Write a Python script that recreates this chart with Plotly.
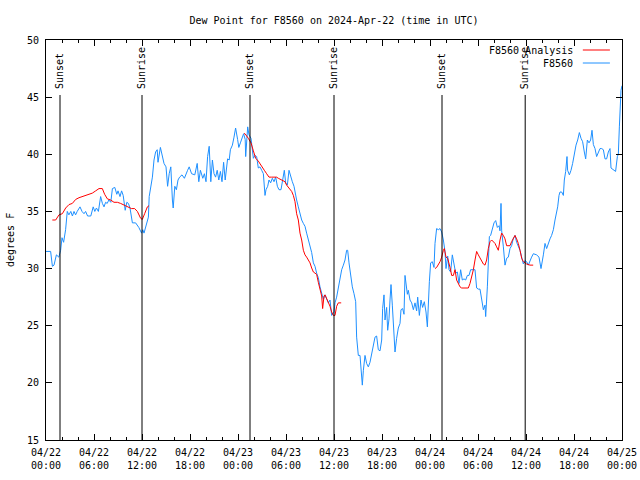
import pandas as pd
import plotly.graph_objects as go

# ---------------- data ----------------
base_time = "2024-04-22 00:00"

obs_hours = [0.0, 0.25, 0.58, 0.8, 1.0, 1.3, 1.6, 1.83, 2.0, 2.2, 2.45, 2.66, 2.86, 3.1, 3.3, 3.5, 3.7, 3.9,
             4.25, 4.5, 4.75, 4.95, 5.2, 5.6, 5.9, 6.1, 6.3, 6.55, 6.83, 7.05, 7.25, 7.45, 7.65, 7.85, 8.1,
             8.3, 8.6, 8.85, 9.0, 9.25, 9.45, 9.65, 9.9, 10.1, 10.3, 10.5, 10.8, 11.2, 11.6, 11.95, 12.1,
             12.25, 12.5, 12.8, 12.9, 13.1, 13.3, 13.5, 13.7, 13.9, 14.0, 14.3, 14.5, 14.75, 15.0, 15.2,
             15.4, 15.6, 15.8, 15.9, 16.1, 16.3, 16.5, 16.7, 17.0, 17.3, 17.7, 17.9, 18.2, 18.6, 18.9, 19.1,
             19.3, 19.6, 19.8, 20.0, 20.2, 20.4, 20.6, 20.8, 21.0, 21.2, 21.4, 21.6, 21.8, 22.0, 22.2, 22.4,
             22.7, 22.9, 23.05, 23.3, 23.5, 23.7, 23.95, 24.1, 24.3, 24.5, 24.7, 24.9, 24.96, 25.21, 25.375,
             25.625, 25.79, 25.92, 26.125, 26.33, 26.54, 26.75, 26.96, 27.17, 27.375, 27.5, 27.71, 27.875,
             28.08, 28.29, 28.5, 28.71, 28.92, 29.125, 29.375, 29.58, 29.79, 29.96, 30.17, 30.375, 30.58,
             30.79, 31.0, 31.125, 31.33, 31.54, 31.75, 31.96, 32.17, 32.375, 32.58, 32.79, 33.0, 33.21,
             33.42, 33.625, 33.83, 34.04, 34.25, 34.46, 34.67, 34.875, 35.08, 35.29, 35.5, 35.71, 36.0,
             36.125, 36.33, 36.54, 36.75, 36.96, 37.17, 37.375, 37.58, 37.71, 37.875, 38.08, 38.29, 38.5,
             38.71, 38.83, 39.04, 39.25, 39.375, 39.54, 39.67, 39.875, 40.08, 40.29, 40.5, 40.71, 40.92,
             41.125, 41.33, 41.54, 41.75, 41.96, 42.08, 42.25, 42.375, 42.58, 42.71, 42.875, 43.0, 43.125,
             43.29, 43.42, 43.625, 43.83, 44.04, 44.25, 44.375, 44.58, 44.75, 44.875, 45.0, 45.17, 45.29,
             45.5, 45.71, 45.92, 46.125, 46.33, 46.46, 46.67, 46.875, 47.08, 47.29, 47.5, 47.67, 47.79,
             47.92, 48.08, 48.29, 48.5, 48.625, 48.83, 49.04, 49.25, 49.46, 49.67, 49.875, 50.0, 50.21,
             50.375, 50.58, 50.79, 51.0, 51.21, 51.42, 51.625, 51.83, 52.04, 52.25, 52.46, 52.67, 52.875,
             53.08, 53.29, 53.625, 53.83, 54.04, 54.25, 54.46, 54.67, 54.875, 54.96, 55.17, 55.29, 55.42,
             55.58, 55.79, 56.0, 56.21, 56.42, 56.625, 56.75, 56.875, 56.96, 57.17, 57.375, 57.58, 57.79,
             58.0, 58.2, 58.4, 58.625, 58.83, 59.04, 59.25, 59.46, 59.67, 59.875, 60.08, 60.29, 60.5, 60.7,
             60.92, 61.33, 61.625, 61.875, 62.17, 62.375, 62.58, 62.79, 63.0, 63.2, 63.42, 63.625, 63.83,
             63.96, 64.125, 64.25, 64.46, 64.67, 64.79, 64.96, 65.125, 65.2, 65.42, 65.625, 65.83, 66.04,
             66.25, 66.46, 66.67, 66.875, 67.08, 67.29, 67.46, 67.67, 67.875, 68.08, 68.25, 68.42, 68.625,
             68.83, 69.04, 69.25, 69.46, 69.67, 69.875, 70.08, 70.29, 70.5, 70.625, 70.92, 71.2, 71.42,
             71.54, 71.67, 71.75, 71.875, 72.0]
obs_values = [31.5, 31.5, 31.5, 30.2, 30.3, 31.2, 31.0, 31.6, 32.7, 32.3, 33.4, 35.0, 34.7, 35.0, 34.6, 35.0, 34.7, 35.0,
              35.4, 35.0, 34.8, 35.0, 34.6, 34.6, 35.4, 35.0, 35.3, 35.0, 36.3, 35.7, 35.4, 35.8, 35.7, 36.0, 35.8,
              37.0, 37.1, 36.5, 36.8, 36.3, 36.8, 36.4, 35.1, 35.8, 35.7, 35.3, 34.0, 34.0, 33.6, 33.1, 33.4,
              33.1, 33.7, 34.5, 36.3, 37.2, 38.0, 39.5, 40.2, 40.4, 39.3, 40.6, 39.9, 39.2, 38.9, 37.2,
              38.3, 38.9, 36.0, 35.3, 37.2, 36.9, 37.75, 38.0, 38.2, 37.9, 38.6, 38.9, 38.3, 38.2, 39.2, 37.6,
              38.6, 37.9, 38.3, 37.6, 39.8, 40.7, 37.6, 39.5, 38.3, 38.0, 38.6, 37.75, 38.5, 37.6, 39.3, 37.75,
              39.6, 39.5, 40.4, 40.8, 41.5, 42.3, 41.3, 40.6, 41.0, 41.5, 41.8, 41.3, 39.8, 42.4, 41.7,
              41.4, 40.4, 39.65, 39.9, 39.8, 38.8, 38.9, 38.6, 38.3, 36.4, 36.9, 37.2, 37.75,
              37.5, 37.9, 37.6, 38.0, 37.2, 36.9, 36.9, 37.6, 38.6, 37.5, 37.3, 38.6, 38.0,
              37.6, 37.2, 36.6, 36.0, 35.4, 34.8, 34.25, 33.95, 33.7, 33.1, 32.5, 31.9, 31.4,
              30.5, 30.2, 29.6, 29.2, 28.4, 27.7, 27.3, 27.7, 27.3, 27.0, 27.25, 25.9, 26.2,
              27.0, 27.5, 28.3, 29.0, 29.9, 30.3, 30.75, 31.6, 31.6, 30.5, 29.3, 28.4, 27.8,
              27.1, 24.0, 22.4, 22.4, 21.1, 19.8, 21.1, 22.4, 21.7, 21.4, 21.8, 22.6, 23.2,
              24.0, 24.1, 22.9, 22.8, 23.75, 26.5, 27.7, 25.5, 26.6, 24.6, 25.6, 27.25, 28.6,
              26.8, 25.5, 22.7, 23.9, 24.8, 25.2, 26.4, 26.5, 26.0, 29.4, 28.85, 27.75, 28.1,
              27.25, 27.0, 26.4, 27.0, 26.3, 27.5, 25.9, 27.25, 26.6, 27.1, 26.2, 24.9, 27.75,
              28.85, 30.5, 30.6, 30.1, 32.2, 33.5, 33.4, 33.5, 33.2, 32.5, 31.5, 30.0, 31.1,
              29.9, 29.7, 31.2, 30.25, 29.6, 29.7, 28.7, 29.9, 29.0, 29.1, 29.0, 29.4, 29.4,
              29.9, 29.9, 29.9, 28.3, 28.2, 28.2, 27.1, 26.4, 26.8, 25.8, 28.4, 31.0, 32.8,
              32.9, 33.5, 34.0, 34.2, 33.6, 33.75, 33.3, 35.7, 33.3, 31.9, 30.3, 30.9, 31.0,
              31.75, 32.0, 32.6, 32.9, 32.3, 32.0, 31.6, 31.0, 30.4, 30.7, 30.6, 30.3, 30.7, 31.0,
              31.3, 31.2, 31.0, 30.0, 31.2, 32.2, 31.75, 32.3, 32.6, 32.9, 33.4, 34.25, 34.8,
              35.4, 36.4, 36.7, 36.7, 36.4, 37.75, 38.5, 39.8, 38.6, 38.2, 38.6, 39.2, 40.2,
              40.8, 41.25, 41.9, 41.4, 41.1, 40.2, 39.6, 41.25, 41.0, 41.25, 42.1, 40.85, 40.5,
              39.8, 40.2, 40.5, 40.5, 40.4, 39.6, 39.6, 40.2, 40.5, 38.8, 38.6, 38.5, 39.8,
              40.0, 42.4, 44.0, 45.6, 46.0]

# analysis series, three separate overnight segments (gaps = None)
ana_hours = [0.79, 1.21, 1.625, 2.04, 2.46, 2.875, 3.29, 3.71, 4.125, 4.54, 4.96, 5.375, 5.79, 6.21, 6.625,
             7.04, 7.33, 7.67, 8.08, 8.5, 8.92, 9.33, 9.75, 10.17, 10.67, 11.08, 11.42, 11.83, 12.04, 12.33,
             12.67, 12.875, 18.0,
             24.75, 24.875, 25.29, 25.625, 25.92, 26.21, 26.54, 26.96, 27.29, 27.58, 27.875, 28.2, 28.83,
             29.04, 29.46, 29.875, 30.08, 30.375, 30.71, 30.92, 31.125, 31.33, 31.54, 31.75, 31.96, 32.17,
             32.375, 32.58, 32.79, 33.0, 33.21, 33.42, 33.625, 33.83, 34.04, 34.25, 34.46, 34.58, 34.75,
             34.875, 35.08, 35.29, 35.5, 35.71, 35.92, 36.125, 36.33, 36.54, 36.9, 42.0,
             48.625, 48.83, 49.25, 49.46, 49.67, 49.79, 50.0, 50.21, 50.5, 50.71, 50.92, 51.125, 51.33,
             51.54, 51.75, 51.96, 52.79, 53.0, 53.21, 53.42, 53.625, 53.83, 54.04, 54.25, 54.46, 54.67,
             54.875, 55.08, 55.29, 55.5, 55.71, 55.92, 56.125, 56.33, 56.54, 56.75, 56.96, 57.17, 57.375,
             57.58, 58.0, 58.2, 58.42, 58.625, 58.83, 59.04, 59.25, 59.46, 59.67, 60.08, 60.5, 60.9]
ana_values = [34.25, 34.25, 34.7, 34.8, 35.3, 35.6, 35.7, 36.05, 36.2, 36.3, 36.4, 36.5, 36.6, 36.8, 37.0,
              37.0, 36.5, 36.1, 36.0, 35.8, 35.8, 35.7, 35.55, 35.45, 35.25, 35.25, 35.0, 34.4, 34.3, 34.8,
              35.4, 35.5, None,
              41.8, 41.8, 41.4, 41.0, 40.3, 39.65, 39.4, 38.9, 38.6, 38.3, 38.0, 38.0, 38.0,
              37.9, 37.75, 37.6, 37.3, 37.0, 36.75, 36.4, 35.85, 34.8, 34.25, 33.1, 32.5, 31.6,
              31.2, 31.0, 30.75, 30.5, 30.05, 29.7, 29.6, 29.5, 28.8, 28.1, 27.6, 26.5, 27.6,
              27.7, 27.4, 27.1, 26.7, 26.2, 25.9, 25.9, 26.7, 27.0, 27.0, None,
              30.0, 30.1, 30.6, 31.0, 31.6, 31.75, 31.0, 30.9, 30.1, 29.4, 29.4, 29.9, 29.0,
              28.7, 28.4, 28.3, 28.3, 28.7, 29.25, 29.9, 30.75, 31.5, 31.2, 30.9, 30.6, 30.4,
              30.3, 30.75, 31.75, 32.35, 32.5, 32.35, 32.2, 31.9, 31.6, 32.5, 33.1, 32.9, 32.6,
              32.0, 32.0, 32.35, 32.6, 32.9, 32.6, 32.2, 31.6, 30.9, 30.6, 30.4, 30.3, 30.3]

event_hours = [1.75, 12.0, 25.5, 36.0, 49.5, 59.9]
event_labels = ["Sunset", "Sunrise", "Sunset", "Sunrise", "Sunset", "Sunrise"]

series_names = ["F8560 Analysis", "F8560"]
series_colors = ["#ff0000", "#1e90ff"]

# ---------------- figure ----------------
t0 = pd.Timestamp(base_time)
obs_t = t0 + pd.to_timedelta(obs_hours, unit="h")
ana_t = t0 + pd.to_timedelta(ana_hours, unit="h")
ev_t = t0 + pd.to_timedelta(event_hours, unit="h")

FONT = "DejaVu Sans Mono"

fig = go.Figure()
fig.add_trace(go.Scatter(x=obs_t, y=obs_values, mode="lines", name=series_names[1],
                         line=dict(color=series_colors[1], width=1), showlegend=False))
fig.add_trace(go.Scatter(x=ana_t, y=ana_values, mode="lines", name=series_names[0],
                         line=dict(color=series_colors[0], width=1), connectgaps=False, showlegend=False))

for t, lab in zip(ev_t, event_labels):
    fig.add_shape(type="line", xref="x", yref="paper", x0=t, x1=t, y0=0, y1=0.8625,
                  line=dict(color="black", width=1))
    fig.add_annotation(x=t, xref="x", y=0.8725, yref="paper", text=lab, textangle=-90,
                       showarrow=False, xanchor="center", yanchor="bottom",
                       font=dict(family=FONT, size=10, color="black"))

# manual gnuplot-style key (text right-aligned, sample to its right)
key_rows = [0.975, 0.9425]
for name, col, yy in zip(series_names, series_colors, key_rows):
    fig.add_annotation(x=0.918, xref="paper", y=yy, yref="paper", text=name, showarrow=False,
                       xanchor="right", yanchor="middle", font=dict(family=FONT, size=10, color="black"))
    fig.add_shape(type="line", xref="paper", yref="paper", x0=0.932, x1=0.979, y0=yy, y1=yy,
                  line=dict(color=col, width=1))

fig.add_annotation(x=-0.0625, xref="paper", y=0.5, yref="paper", text="degrees F", textangle=-90,
                   showarrow=False, xanchor="center", yanchor="middle",
                   font=dict(family=FONT, size=10, color="black"))

fig.update_layout(
    width=640, height=480,
    margin=dict(l=46, r=18, t=40, b=40, autoexpand=False),
    paper_bgcolor="white", plot_bgcolor="white",
    font=dict(family=FONT, size=10, color="black"),
    hovermode=False,
    title=dict(text="Dew Point for F8560 on 2024-Apr-22 (time in UTC)", x=0.5, xref="paper",
               y=1 - 20 / 480, yanchor="middle", font=dict(family=FONT, size=10, color="black")),
)
fig.update_xaxes(
    range=[t0, t0 + pd.Timedelta(hours=72)], type="date", automargin=False,
    tick0=t0, dtick=6 * 3600 * 1000, tickformat="%m/%d<br>%H:%M",
    ticks="inside", ticklen=6, tickcolor="black", mirror="allticks",
    showline=True, linecolor="black", linewidth=1, showgrid=False, zeroline=False,
    ticklabelstandoff=3,
    minor=dict(dtick=2 * 3600 * 1000, tick0=t0, ticks="inside", ticklen=3, tickcolor="black", showgrid=False),
)
fig.update_yaxes(
    range=[15, 50], dtick=5, tick0=15, automargin=False,
    ticks="inside", ticklen=6, tickcolor="black", mirror="allticks",
    showline=True, linecolor="black", linewidth=1, showgrid=False, zeroline=False,
    ticklabelstandoff=4,
)

# remove the default 8px page margin so the 640x480 figure fills the window exactly
fig.write_html("out.html", config={"displayModeBar": False},
               post_script="document.body.style.margin='0px';")
